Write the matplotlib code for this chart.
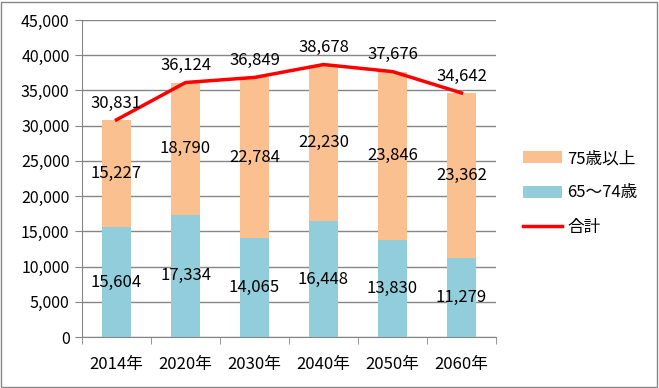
import matplotlib
matplotlib.use("Agg")
import matplotlib.pyplot as plt
from matplotlib.patches import Rectangle

plt.rcParams['font.family'] = ['Noto Sans CJK JP', 'DejaVu Sans']

categories = ["2014年", "2020年", "2030年", "2040年", "2050年", "2060年"]
age_65_74 = [15604, 17334, 14065, 16448, 13830, 11279]
age_75_plus = [15227, 18790, 22784, 22230, 23846, 23362]
totals = [30831, 36124, 36849, 38678, 37676, 34642]
yticks = [0, 5000, 10000, 15000, 20000, 25000, 30000, 35000, 40000, 45000]

W, H = 659, 388
fig = plt.figure(figsize=(W / 100, H / 100), dpi=100)
ax = fig.add_axes([82 / W, 1 - 337 / H, (496 - 82) / W, (337 - 20) / H])

c_blue = "#92CDDC"
c_orange = "#FAC090"
x = list(range(len(categories)))
bw = 0.41
b1 = ax.bar(x, age_65_74, width=bw, color=c_blue, zorder=2)
b2 = ax.bar(x, age_75_plus, width=bw, bottom=age_65_74, color=c_orange, zorder=2)
ln, = ax.plot(x, totals, color="#FF0000", lw=2.5, zorder=3)

fs = 12
for i in x:
    ax.text(i, age_65_74[i] / 2, f"{age_65_74[i]:,}", ha="center", va="center", fontsize=fs, zorder=4)
    ax.text(i, age_65_74[i] + age_75_plus[i] / 2, f"{age_75_plus[i]:,}", ha="center", va="center", fontsize=fs, zorder=4)
    ax.annotate(f"{totals[i]:,}", (i, totals[i]), xytext=(0, 6), textcoords="offset points",
                ha="center", va="bottom", fontsize=fs, zorder=4)

ax.set_xlim(-0.5, len(categories) - 0.5)
ax.set_ylim(0, 45000)
ax.set_yticks(yticks)
ax.set_yticklabels([f"{v:,}" for v in yticks], fontsize=11.5)
ax.set_xticks(x)
ax.set_xticklabels(categories, fontsize=fs)
ax.set_xticks([i - 0.5 for i in range(len(categories) + 1)], minor=True)
ax.tick_params(axis="x", which="major", length=0, pad=14)
ax.tick_params(axis="x", which="minor", length=5, color="#868686")
ax.tick_params(axis="y", length=5, color="#868686", pad=4)
ax.grid(axis="y", color="#868686", lw=1, zorder=0)
for s in ["top", "right"]:
    ax.spines[s].set_visible(False)
ax.spines["left"].set_color("#868686")
ax.spines["bottom"].set_color("#868686")

fig.legend([b2, b1, ln], ["75歳以上", "65〜74歳", "合計"],
           loc="center left", bbox_to_anchor=(523 / W, 1 - 193 / H), frameon=False,
           borderpad=0, borderaxespad=0,
           fontsize=12, handlelength=2.35, handleheight=0.7, labelspacing=1.05, handletextpad=0.3)

fig.patches.append(Rectangle((1 / W, 1 / H), 1 - 3 / W, 1 - 3 / H, transform=fig.transFigure,
                             fill=False, edgecolor="#868686", lw=1))
fig.savefig("out.png", dpi=100)
